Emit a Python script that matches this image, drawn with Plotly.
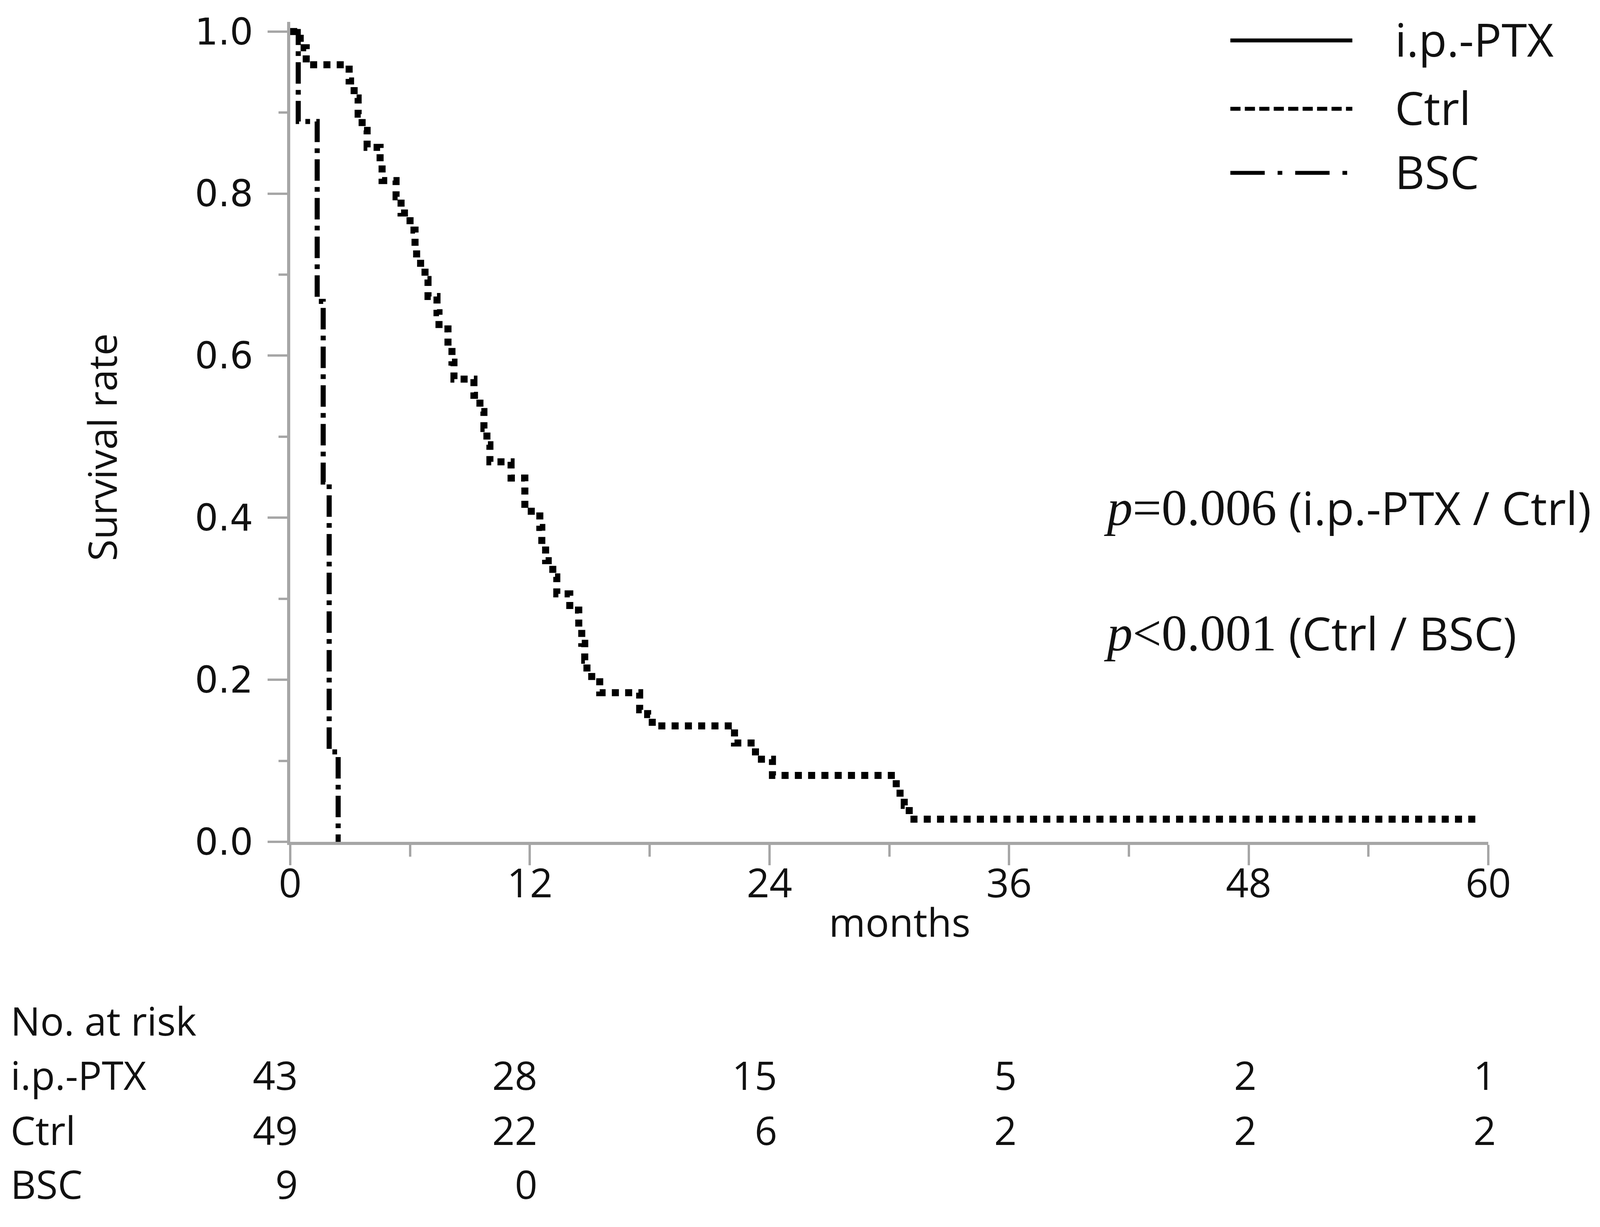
import plotly.graph_objects as go

# ---------------- data ----------------
ctrl_t = [0, 0.5, 0.8, 2.95, 3.2, 3.4, 3.6, 3.85, 4.5, 4.6, 5.3, 5.55, 6.0, 6.25, 6.33,
          6.75, 6.9, 7.35, 7.45, 7.9, 8.1, 8.2, 9.2, 9.5, 9.7, 9.85, 10.0, 11.06, 11.75,
          12.5, 12.6, 12.79, 13.15, 13.35, 14.0, 14.45, 14.6, 14.75, 14.86, 15.5, 17.5,
          17.9, 18.13, 22.25, 23.3, 24.15, 30.35, 30.75, 31.0, 59.5]
ctrl_s = [1.0, 0.98, 0.959, 0.939, 0.918, 0.898, 0.878, 0.857, 0.837, 0.816, 0.796, 0.776,
          0.755, 0.735, 0.714, 0.694, 0.673, 0.653, 0.633, 0.612, 0.592, 0.571, 0.551, 0.531,
          0.51, 0.49, 0.469, 0.449, 0.408, 0.388, 0.367, 0.347, 0.327, 0.306, 0.286, 0.265,
          0.245, 0.224, 0.204, 0.184, 0.163, 0.157, 0.143, 0.122, 0.102, 0.082, 0.06, 0.045,
          0.028, 0.028]

bsc_t = [0, 0.4, 1.35, 1.65, 1.95, 2.4]
bsc_s = [1.0, 0.889, 0.667, 0.444, 0.111, 0.0]

groups = ["i.p.-PTX", "Ctrl", "BSC"]
risk_times = [0, 12, 24, 36, 48, 60]
risk_ptx = [43, 28, 15, 5, 2, 1]
risk_ctrl = [49, 22, 6, 2, 2, 2]
risk_bsc = [9, 0]

x_ticks = [0, 12, 24, 36, 48, 60]
y_ticks = [0.0, 0.2, 0.4, 0.6, 0.8, 1.0]

p_texts = ["=0.006", "<0.001"]
p_pairs = ["(i.p.-PTX / Ctrl)", "(Ctrl / BSC)"]

# ---------------- layout geometry ----------------
W, H = 4144, 3141
K = 0.9883           # pixel estimate correction
DX, DY = -9, -8      # global offset correction
PL, PR = 744 + DX, 3811 + DX
Y1, PB = 81 + DY, 2155 + DY   # pixel rows of survival 1.0 and 0.0
YTOP = 1.0119
PT = Y1 - (YTOP - 1.0) * (PB - Y1)
PW, PH = PR - PL, PB - PT


def fx(px):
    return (px * K + DX - PL) / PW


def fy(py):
    return (PB - (py * K + DY)) / PH


SANS = "Open Sans"
SERIF = "Liberation Serif"
AX = "#a6a6a6"
INK = "#111111"

fig = go.Figure()
fig.add_trace(go.Scatter(x=ctrl_t, y=ctrl_s, mode="lines", line_shape="hv",
                         line=dict(color="black", width=18, dash="18px,16px"),
                         name="Ctrl", showlegend=False))
fig.add_trace(go.Scatter(x=bsc_t, y=bsc_s, mode="lines", line_shape="hv",
                         line=dict(color="black", width=13, dash="55px,16px,12px,16px"),
                         name="BSC", showlegend=False))

ann = []
shapes = []

# legend (manual, long samples)
leg_y = [105, 282, 448]
leg_dash = ["solid", "26px,11px", "88px,33px,12px,33px"]
for g, yy, d in zip(groups, leg_y, leg_dash):
    shapes.append(dict(type="line", xref="paper", yref="paper",
                       x0=fx(3188), x1=fx(3504), y0=fy(yy), y1=fy(yy),
                       line=dict(color="black", width=10, dash=d)))
    ann.append(dict(text=g, xref="paper", yref="paper", x=fx(3612), y=fy(yy - 4),
                    xanchor="left", yanchor="middle", showarrow=False,
                    font=dict(family=SANS, size=118, color=INK)))

# p-values
for txt, pair, yy in zip(p_texts, p_pairs, [1314, 1639]):
    s = (f"<span style=\"font-family:'{SERIF}';font-size:131px\"><i>p</i>{txt}</span>"
         f" {pair}")
    ann.append(dict(text=s, xref="paper", yref="paper", x=fx(2858), y=fy(yy),
                    xanchor="left", yanchor="middle", showarrow=False,
                    font=dict(family=SANS, size=118, color=INK)))

# axis titles
ann.append(dict(text="Survival rate", xref="paper", yref="paper", x=fx(264), y=fy(1158),
                textangle=-90, xanchor="center", yanchor="middle", showarrow=False,
                font=dict(family=SANS, size=101, color=INK)))
ann.append(dict(text="months", xref="paper", yref="paper", x=fx(2331), y=fy(2387),
                xanchor="center", yanchor="middle", showarrow=False,
                font=dict(family=SANS, size=101, color=INK)))

# number at risk table
ann.append(dict(text="No. at risk", xref="paper", yref="paper", x=fx(26), y=fy(2643),
                xanchor="left", yanchor="middle", showarrow=False,
                font=dict(family=SANS, size=101, color=INK)))
rows = [risk_ptx, risk_ctrl, risk_bsc]
row_y = [2783, 2926, 3066]
for g, vals, yy in zip(groups, rows, row_y):
    ann.append(dict(text=g, xref="paper", yref="paper", x=fx(26), y=fy(yy),
                    xanchor="left", yanchor="middle", showarrow=False,
                    font=dict(family=SANS, size=101, color=INK)))
    for t, v in zip(risk_times, vals):
        ann.append(dict(text=str(v), xref="x", yref="paper", x=t, y=fy(yy),
                        xanchor="right", yanchor="middle", showarrow=False, xshift=22,
                        font=dict(family=SANS, size=101, color=INK)))

fig.update_layout(
    width=W, height=H,
    margin=dict(l=PL, r=W - PR, t=PT, b=H - PB, pad=0),
    paper_bgcolor="white", plot_bgcolor="white",
    showlegend=False,
    annotations=ann, shapes=shapes,
)
fig.update_xaxes(range=[0, 60], tickvals=x_ticks, ticktext=[str(v) for v in x_ticks],
                 showgrid=False, zeroline=False, showline=True, linecolor=AX, linewidth=8,
                 ticks="outside", ticklen=52, tickwidth=6, tickcolor=AX,
                 ticklabelstandoff=-40,
                 minor=dict(dtick=6, ticks="outside", ticklen=30, tickwidth=6, tickcolor=AX),
                 tickfont=dict(family=SANS, size=102, color=INK))
fig.update_yaxes(range=[0, YTOP], tickvals=y_ticks, ticktext=[f"{v:.1f}" for v in y_ticks],
                 showgrid=False, zeroline=False, showline=True, linecolor=AX, linewidth=8,
                 ticks="outside", ticklen=50, tickwidth=6, tickcolor=AX,
                 ticklabelstandoff=18,
                 minor=dict(tickvals=[0.1, 0.3, 0.5, 0.7, 0.9], ticks="outside", ticklen=22,
                            tickwidth=6, tickcolor=AX),
                 tickfont=dict(family="DejaVu Sans", size=94, color=INK))

fig.write_html("out.html")
